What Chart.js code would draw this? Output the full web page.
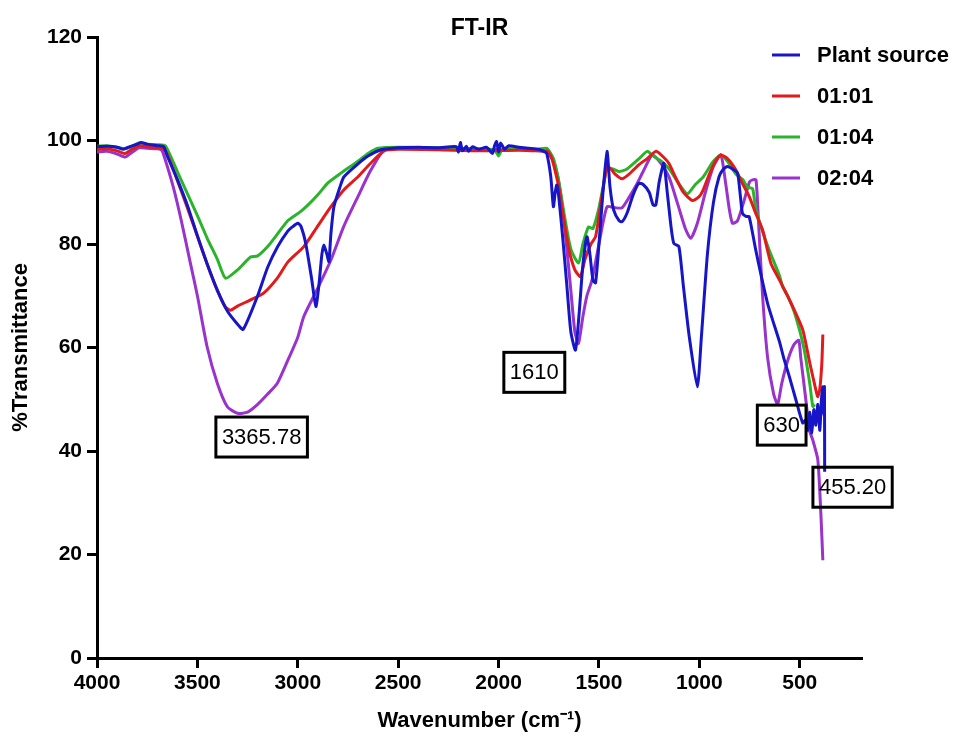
<!DOCTYPE html>
<html>
<head>
<meta charset="utf-8">
<script src="https://cdn.jsdelivr.net/npm/chart.js@4.4.1/dist/chart.umd.min.js"></script>
<style>
  html, body { margin: 0; padding: 0; background: #fff; }
  #wrap { width: 962px; height: 742px; }
</style>
</head>
<body>
<div id="wrap"><canvas id="chart" width="962" height="742"></canvas></div>
<script>
// series labels + colours
const seriesNames = ["Plant source", "01:01", "01:04", "02:04"];
const seriesColors = ["#1616c8", "#e31a1c", "#2bb32b", "#9933cc"];

const xTicks = [4000, 3500, 3000, 2500, 2000, 1500, 1000, 500];
const yTicks = [0, 20, 40, 60, 80, 100, 120];

// Plant source (blue)
const blueWn = [4000, 3950, 3900, 3870, 3850, 3800, 3780, 3750, 3700, 3668, 3650, 3600, 3550, 3500, 3450, 3400, 3350, 3300, 3272,
  3200, 3150, 3100, 3050, 3027, 3000, 2985, 2960, 2930, 2910, 2895, 2880, 2870, 2855, 2845, 2835, 2820, 2790, 2770, 2700, 2650, 2585, 2500,
  2400, 2300, 2210, 2200, 2190, 2180, 2160, 2150, 2130, 2100, 2060, 2030, 2020, 2010, 2000, 1990, 1970, 1950, 1900, 1850, 1800, 1770,
  1760, 1740, 1727, 1718, 1710, 1700, 1680, 1660, 1640, 1617, 1600, 1580, 1560, 1545, 1530, 1517, 1500, 1480, 1460, 1445, 1427, 1400, 1385,
  1360, 1330, 1302, 1280, 1250, 1230, 1217, 1200, 1177, 1160, 1140, 1127, 1102, 1080, 1050, 1010, 990, 960, 930, 902, 880, 860, 835, 810,
  795, 785, 765, 752, 720, 690, 660, 635, 600, 580, 552, 520, 485, 470, 460, 450, 440, 430, 420, 410, 400, 392, 385, 380, 377, 376];
const blueT = [98.8, 98.9, 98.7, 98.3, 98.6, 99.3, 99.6, 99.3, 99.0, 98.8, 97, 92.5, 87.5, 81.6, 76, 71, 67, 64.5, 63.5,
  70, 75.5, 79.5, 82.5, 83.3, 84, 83.5, 80, 73, 67.9, 72, 78, 79.8, 78, 76.6, 82, 87.2, 91, 93, 95.5, 97, 98.2, 98.6,
  98.7, 98.6, 98.8, 97.8, 99.6, 98, 98.9, 97.9, 98.8, 98.3, 98.7, 97.5, 99, 99.8, 97.8, 99.5, 98.3, 99, 98.7, 98.5, 98.3, 97.8,
  97.5, 93, 87.2, 90, 91.4, 89, 81, 72, 63, 59.5, 66, 76, 81.4, 78, 73, 72.5, 80, 90, 97.9, 91, 86.6, 84.5, 84.3,
  86, 89.5, 91.7, 91.5, 90, 87.5, 87.5, 92, 95.6, 90, 83, 80.1, 79.5, 72, 62, 52.4, 62, 78, 88, 93, 94.5, 95, 94.5, 93.7,
  89, 85.9, 85.3, 85.3, 79, 73.5, 68.5, 65.3, 61, 58, 54.4, 50, 45.4, 46, 44, 47.5, 43.5, 48, 45, 49, 44, 50, 52.4, 47, 52.4, 36];

// 01:01 (red)
const redWn = [4000, 3950, 3900, 3860, 3830, 3790, 3750, 3700, 3670, 3650, 3600, 3550, 3500, 3450, 3400, 3360, 3335, 3300, 3235,
  3170, 3100, 3050, 2970, 2900, 2835, 2770, 2700, 2640, 2570, 2500, 2300, 2100, 1900, 1800, 1760, 1740, 1727, 1700, 1680, 1650,
  1620, 1592, 1570, 1540, 1517, 1490, 1460, 1440, 1420, 1385, 1350, 1302, 1260, 1217, 1190, 1152, 1120, 1080, 1035, 1000, 985,
  950, 920, 893, 860, 818, 790, 752, 720, 685, 644, 600, 535, 485, 450, 418, 410, 400, 390, 385];
const redT = [98.3, 98.4, 98.0, 97.5, 98.2, 99.0, 98.8, 98.6, 98.4, 97.3, 92.3, 87, 81.5, 76, 71, 67.8, 67.2, 68, 69.2,
  70.5, 73.5, 76.5, 79.5, 83.5, 87.2, 90.5, 93, 95.5, 98.0, 98.3, 98.2, 98.0, 98.1, 98.0, 98, 97, 95.5, 91, 86, 79,
  75, 73.7, 77, 80, 81.4, 88, 95, 94.5, 93.5, 92.6, 93.5, 95.3, 96.5, 97.9, 97.2, 95.6, 93, 90, 88.4, 89.2, 90.1,
  93.5, 96, 97.2, 96.5, 94.3, 92, 89.2, 86, 82.7, 76.3, 73, 67.9, 63.4, 57, 51.5, 50.5, 52, 57, 62.5];

// 01:04 (green)
const greenWn = [4000, 3950, 3900, 3860, 3830, 3790, 3750, 3700, 3660, 3600, 3500, 3450, 3400, 3360, 3300, 3235, 3200, 3150,
  3100, 3050, 2985, 2950, 2900, 2850, 2785, 2700, 2650, 2600, 2500, 2300, 2100, 2020, 2000, 1980, 1900, 1800, 1760, 1727, 1700,
  1670, 1640, 1602, 1580, 1552, 1530, 1500, 1470, 1460, 1430, 1400, 1360, 1300, 1260, 1230, 1190, 1150, 1100, 1060, 1020, 980,
  930, 893, 860, 818, 785, 760, 735, 720, 690, 652, 602, 585, 560, 520, 480, 450, 435, 425];
const greenT = [98.9, 99.0, 98.7, 98.4, 98.8, 99.5, 99.3, 99.2, 99.0, 94, 85.5, 81, 77, 73.4, 75, 77.5, 77.7, 79.5,
  82, 84.5, 86.3, 87.5, 89.5, 91.8, 93.7, 96, 97.5, 98.5, 98.7, 98.6, 98.4, 98.2, 97, 98.4, 98.3, 98.3, 98.5, 96.5, 92,
  85, 79, 76.3, 80, 83.3, 83, 87, 93, 94.5, 94.5, 94, 94.5, 96.5, 97.9, 97, 96, 94.5, 91.5, 89.7, 91.5, 93,
  96, 97.2, 96, 93.5, 92.5, 91, 90.7, 87, 83, 78.8, 74, 71.7, 70, 66, 60, 53, 48.6, 49];

// 02:04 (purple)
const purpleWn = [4000, 3950, 3900, 3860, 3830, 3790, 3750, 3700, 3680, 3670, 3620, 3580, 3535, 3500, 3452, 3400, 3350, 3300,
  3250, 3200, 3150, 3102, 3050, 3000, 2970, 2900, 2835, 2770, 2700, 2640, 2570, 2500, 2300, 2100, 1900, 1800, 1760, 1727, 1700,
  1670, 1640, 1620, 1602, 1580, 1560, 1535, 1500, 1460, 1420, 1385, 1350, 1318, 1280, 1235, 1200, 1152, 1110, 1070, 1043, 1010,
  970, 930, 893, 870, 850, 835, 810, 780, 750, 735, 718, 705, 685, 660, 630, 610, 590, 560, 530, 505, 495, 470, 452, 435, 410,
  395, 385];
const purpleT = [97.8, 97.9, 97.4, 96.8, 97.6, 98.6, 98.5, 98.4, 98.2, 97.5, 91, 84.5, 76.3, 70, 60.2, 53, 48.5, 47.3,
  47.5, 49, 51, 53.1, 57.5, 62, 66, 71.5, 76.9, 83.5, 89.2, 94, 98.2, 98.5, 98.3, 98.2, 98.3, 98.0, 97.8, 96, 92,
  83, 71, 63, 60.8, 66, 70, 73, 80, 87.2, 87, 87, 89, 91.1, 94, 97.2, 96, 93, 88, 83, 81.1, 84,
  90, 95, 97.2, 92, 86.5, 84, 84.5, 88, 92, 92.4, 92.4, 84, 69.9, 58, 51, 49, 53, 57.5, 60.5, 61.4, 58, 50, 44, 42.1, 38.3,
  28, 18.9];

// peak labels (text, wavenumber, %T at box centre)
const peakText = ["3365.78", "1610", "630", "455.20"];
const peakWn = [3180, 1822, 590, 237];
const peakT = [42.7, 55.2, 45, 33];

const toPoints = (xs, ys) => xs.map((x, i) => ({ x: x, y: ys[i] }));
const seriesData = [
  toPoints(blueWn, blueT),
  toPoints(redWn, redT),
  toPoints(greenWn, greenT),
  toPoints(purpleWn, purpleT),
];

const FONT = "'Liberation Sans', Arial, sans-serif";

// title, legend and boxed peak labels
const extras = {
  id: "extras",
  afterDatasetsDraw: (chart) => {
    const ctx = chart.ctx;
    const { left, right, top } = chart.chartArea;
    const xs = chart.scales.x;
    const ys = chart.scales.y;
    ctx.save();

    ctx.fillStyle = "#000";
    ctx.font = "bold 23px " + FONT;
    ctx.textAlign = "center";
    ctx.textBaseline = "middle";
    ctx.fillText("FT-IR", (left + right) / 2, top - 8);

    ctx.font = "bold 22px " + FONT;
    ctx.textAlign = "left";
    seriesNames.forEach((name, i) => {
      const y = top + 18 + i * 41;
      ctx.strokeStyle = seriesColors[i];
      ctx.lineWidth = 3;
      ctx.beginPath();
      ctx.moveTo(right - 90, y);
      ctx.lineTo(right - 62, y);
      ctx.stroke();
      ctx.fillStyle = "#000";
      ctx.fillText(name, right - 45, y + 1);
    });

    ctx.font = "22px " + FONT;
    ctx.textAlign = "center";
    peakText.forEach((t, i) => {
      const cx = xs.getPixelForValue(peakWn[i]);
      const cy = ys.getPixelForValue(peakT[i]);
      const w = ctx.measureText(t).width + 12;
      const h = 40;
      ctx.strokeStyle = "#000";
      ctx.lineWidth = 3;
      ctx.strokeRect(cx - w / 2, cy - h / 2, w, h);
      ctx.fillStyle = "#000";
      ctx.fillText(t, cx, cy + 1);
    });
    ctx.restore();
  },
};

new Chart("chart", {
  type: "line",
  data: {
    datasets: seriesNames.map((name, i) => ({
      label: name,
      data: seriesData[i],
      borderColor: seriesColors[i],
      backgroundColor: seriesColors[i],
      borderWidth: 3,
      pointRadius: 0,
      fill: false,
      tension: 0.2,
    })),
  },
  options: {
    responsive: false,
    animation: false,
    layout: { padding: { top: 37, right: 100, left: 0, bottom: 0 } },
    plugins: {
      legend: { display: false },
      tooltip: { enabled: false },
    },
    scales: {
      x: {
        type: "linear",
        reverse: true,
        min: 190,
        max: 4000,
        afterBuildTicks: (scale) => {
          scale.ticks = xTicks.map((v) => ({ value: v }));
        },
        afterFit: (scale) => {
          scale.height = 84;
        },
        ticks: {
          color: "#000",
          font: { family: FONT, size: 21, weight: "bold" },
          padding: 3,
          maxRotation: 0,
          autoSkip: false,
          callback: (v) => String(v),
        },
        grid: { drawOnChartArea: false, tickLength: 10, tickWidth: 3, tickColor: "#000" },
        border: { width: 3, color: "#000" },
        title: {
          display: true,
          text: "Wavenumber (cm\u207B\u00B9)",
          color: "#000",
          font: { family: FONT, size: 22, weight: "bold" },
          padding: { top: 0, bottom: 8 },
        },
      },
      y: {
        min: 0,
        max: 120,
        afterBuildTicks: (scale) => {
          scale.ticks = yTicks.map((v) => ({ value: v }));
        },
        afterFit: (scale) => {
          scale.width = 97;
        },
        ticks: {
          color: "#000",
          font: { family: FONT, size: 21, weight: "bold" },
          padding: 5,
          callback: (v) => String(v),
        },
        grid: { drawOnChartArea: false, tickLength: 10, tickWidth: 3, tickColor: "#000" },
        border: { width: 3, color: "#000" },
        title: {
          display: true,
          text: "%Transmittance",
          color: "#000",
          font: { family: FONT, size: 22, weight: "bold" },
          padding: { top: 8, bottom: 0 },
        },
      },
    },
  },
  plugins: [extras],
});
</script>
</body>
</html>
